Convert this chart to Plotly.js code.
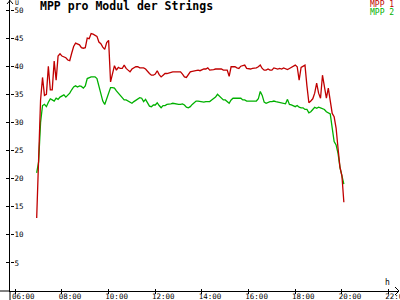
<!DOCTYPE html>
<html>
<head>
<meta charset="utf-8">
<script src="https://cdn.plot.ly/plotly-3.0.1.min.js"></script>
<style>html,body{margin:0;padding:0;background:#fff;}#chart{width:400px;height:300px;}</style>
</head>
<body>
<div id="chart"></div>
<script>
// ---- data ----
const TIMES = [
 "06:55",
 "07:00","07:05","07:10","07:15","07:20","07:25","07:30","07:35","07:40","07:45","07:50","07:55",
 "08:00","08:05","08:10","08:15","08:20","08:25","08:30","08:35","08:40","08:45","08:50","08:55",
 "09:00","09:05","09:10","09:15","09:20","09:25","09:30","09:35","09:40","09:45","09:50","09:55",
 "10:00","10:05","10:10","10:15","10:20","10:25","10:30","10:35","10:40","10:45","10:50","10:55",
 "11:00","11:05","11:10","11:15","11:20","11:25","11:30","11:35","11:40","11:45","11:50","11:55",
 "12:00","12:05","12:10","12:15","12:20","12:25","12:30","12:35","12:40","12:45","12:50","12:55",
 "13:00","13:05","13:10","13:15","13:20","13:25","13:30","13:35","13:40","13:45","13:50","13:55",
 "14:00","14:05","14:10","14:15","14:20","14:25","14:30","14:35","14:40","14:45","14:50","14:55",
 "15:00","15:05","15:10","15:15","15:20","15:25","15:30","15:35","15:40","15:45","15:50","15:55",
 "16:00","16:05","16:10","16:15","16:20","16:25","16:30","16:35","16:40","16:45","16:50","16:55",
 "17:00","17:05","17:10","17:15","17:20","17:25","17:30","17:35","17:40","17:45","17:50","17:55",
 "18:00","18:05","18:10","18:15","18:20","18:25","18:30","18:35","18:40","18:45","18:50","18:55",
 "19:00","19:05","19:10","19:15","19:20","19:25","19:30","19:35","19:40","19:45","19:50","19:55",
 "20:00","20:05"
];
const MPP1 = [
 13, 22, 34, 38, 34.8, 35, 40, 35.8, 35.8, 40.9, 37.5, 41.8,
 42.2, 41.8, 41.6, 41.5, 41.1, 41.0, 42.3, 43.5, 44.1, 44.0, 43.8, 43.3, 43.2,
 43.3, 45.0, 44.9, 45.8, 45.7, 45.5, 45.3, 44.3, 44.0, 43.4, 43.0, 44.2, 44.6,
 37.2, 38.8, 40.1, 39.3, 39.8, 39.6, 39.6, 40.2, 39.6, 39.3, 39.0, 39.5,
 39.7, 39.9, 39.9, 39.7, 39.7, 39.7, 39.5, 39.0, 38.7, 38.4, 38.4, 38.6,
 39.2, 38.5, 38.1, 38.4, 38.7, 38.7, 38.8, 39.0, 39.0, 39.0, 39.0, 39.0,
 39.0, 38.6, 38.1, 38.0, 38.4, 39.0, 39.1, 39.2, 39.3, 39.3, 39.2, 39.4,
 39.5, 39.5, 39.7, 39.3, 39.3, 39.4, 39.5, 39.5, 39.6, 39.5, 39.3, 39.3,
 39.3, 38.2, 39.9, 39.9, 39.9, 39.7, 39.6, 40.0, 40.1, 40.2, 39.6, 39.5,
 39.5, 39.6, 39.6, 39.7, 39.9, 40.2, 39.6, 39.3, 39.3, 39.5, 39.3, 39.3,
 39.7, 39.6, 39.5, 39.6, 39.5, 39.7, 39.6, 39.4, 39.6, 39.8, 39.9, 40.2,
 39.9, 37.5, 39.8, 40.0, 40.2, 36.5, 33.5, 33.8, 34.2, 35.2, 37.0, 35.2,
 34.3, 38.4, 36.3, 34.3, 36.1, 33.8, 31.6, 31.0, 29.0, 25.4, 22.0, 20.5, 15.8
];
const MPP2 = [
 21, 23, 30, 33, 33.2, 32.8, 33.6, 34.2, 34.0, 33.8, 34.3, 34.1,
 34.5, 34.7, 34.9, 34.5, 34.8, 35.2, 35.8, 36.3, 36.5, 36.3, 36.5, 36.4, 36.1,
 36.5, 37.8, 38.0, 38.1, 38.1, 38.1, 37.8, 36.5, 34.9, 33.8, 33.2, 34.2, 35.3,
 36.2, 36.2, 36.1, 35.6, 35.2, 34.7, 34.4, 34.0, 34.0, 33.8, 33.6, 33.4,
 33.7, 33.9, 34.1, 34.4, 34.3, 33.7, 34.1, 33.5, 32.9, 32.8, 33.1, 33.1,
 33.5, 33.0, 32.6, 33.0, 33.0, 33.2, 33.2, 33.3, 33.4, 33.3, 33.2, 33.2,
 33.2, 33.3, 33.1, 32.7, 32.6, 32.8, 33.2, 33.5, 33.8, 33.8, 33.7, 33.6,
 33.6, 33.7, 33.7, 33.7, 34.0, 34.3, 34.5, 35.0, 34.6, 34.2, 34.0, 34.0,
 33.7, 33.4, 34.0, 34.3, 34.3, 34.3, 34.3, 34.3, 34.0, 34.0, 33.8, 33.8,
 33.7, 33.7, 33.7, 33.8, 34.2, 35.5, 34.8, 33.6, 33.4, 33.6, 33.7, 33.7,
 33.8, 33.7, 33.6, 33.6, 33.5, 33.4, 33.3, 34.1, 33.2, 33.1, 32.9, 32.8,
 33.0, 32.7, 32.6, 32.6, 32.3, 32.3, 31.7, 31.9, 32.3, 32.7, 32.5, 32.7,
 32.6, 32.4, 32.3, 31.9, 31.7, 31.5, 29.0, 26.6, 26.0, 24.5, 22.0, 20.5, 19.0
];
const X_TICKS = [6, 8, 10, 12, 14, 16, 18, 20, 22];
const X_TICK_LABELS = ["06:00","08:00","10:00","12:00","14:00","16:00","18:00","20:00","22:00"];
const Y_TICKS = [5, 10, 15, 20, 25, 30, 35, 40, 45, 50];
const SERIES_NAMES = ["MPP 1", "MPP 2"];
const TITLE = "MPP pro Modul der Strings";

// ---- styling / layout ----
const RED = "#c00000", GREEN = "#00b000";
const toHours = s => { const [h, m] = s.split(":").map(Number); return h + m / 60; };
const xs = TIMES.map(toHours);

const L = 10, R = 398, T = 0, B = 291;           // plot area in pixels
const px = p => (p - L) / (R - L);               // pixel -> paper x
const py = p => (B - p) / (B - T);               // pixel -> paper y
const X_RANGE = [6 - (15.3 - L) / 23.33, 6 + (R - 15.3) / 23.33];
const Y_RANGE = [0, (B - T) / 5.62];

const MONO = "DejaVu Sans Mono, Liberation Mono, monospace";
const tickFont = {family: MONO, size: 7.5, color: "#000"};

const traces = [
  {x: xs, y: MPP2, name: SERIES_NAMES[1], type: "scatter", mode: "lines",
   xaxis: "x", yaxis: "y",
   line: {color: GREEN, width: 1.3}, hoverinfo: "skip"},
  {x: xs, y: MPP1, name: SERIES_NAMES[0], type: "scatter", mode: "lines",
   xaxis: "x2", yaxis: "y2",
   line: {color: RED, width: 1.3}, hoverinfo: "skip"}
];

const layout = {
  width: 400, height: 300,
  margin: {l: L, r: 400 - R, t: T, b: 300 - B, pad: 0},
  paper_bgcolor: "#fff", plot_bgcolor: "#fff",
  showlegend: false,
  title: {text: TITLE, x: 40 / 400, xref: "container", xanchor: "left",
          y: 1 - 2 / 300, yref: "container", yanchor: "top",
          font: {family: MONO, size: 11.5, color: "#000", weight: "bold"}},
  xaxis: {range: X_RANGE, showgrid: false, zeroline: false, showline: true,
          linecolor: "#000", linewidth: 1, ticks: "outside", ticklen: 2, tickwidth: 1,
          tickcolor: "#000", tickvals: X_TICKS, ticktext: X_TICK_LABELS,
          tickfont: tickFont, ticklabelshift: 8, ticklabelstandoff: -4,
          ticklabeloverflow: "allow", fixedrange: true},
  yaxis: {range: Y_RANGE, showgrid: false, zeroline: false, showline: true,
          linecolor: "#000", linewidth: 1, ticks: "outside", ticklen: 3, tickwidth: 1,
          tickcolor: "#000", tickvals: Y_TICKS, showticklabels: false, fixedrange: true},
  xaxis2: {range: X_RANGE, overlaying: "x", anchor: "y2", side: "bottom",
           showgrid: false, zeroline: false, showline: false, ticks: "inside",
           ticklen: 2, tickwidth: 1, tickcolor: "#000", tickvals: X_TICKS,
           showticklabels: false, fixedrange: true},
  yaxis2: {range: Y_RANGE, overlaying: "y", anchor: "free", position: 0, side: "right",
           showgrid: false, zeroline: false, showline: false, ticks: "outside",
           ticklen: 3, tickwidth: 1, tickcolor: "#000", tickvals: Y_TICKS,
           ticktext: Y_TICKS.map(String), tickfont: tickFont, ticklabelstandoff: -1,
           ticklabeloverflow: "allow", fixedrange: true},
  shapes: [
    {type: "line", xref: "paper", yref: "paper", x0: px(L), x1: px(L), y0: py(B), y1: py(300),
     line: {color: "#000", width: 1}},
    {type: "line", xref: "paper", yref: "paper", x0: px(0), x1: px(L), y0: py(B), y1: py(B),
     line: {color: "#000", width: 1}},
    {type: "line", xref: "paper", yref: "paper", x0: px(R), x1: px(399), y0: py(B), y1: py(B),
     line: {color: "#000", width: 1}},
    {type: "path", xref: "paper", yref: "paper",
     path: `M ${px(7)} ${py(4)} L ${px(L)} ${py(0.5)} L ${px(13)} ${py(4)}`,
     line: {color: "#000", width: 1}},
    {type: "path", xref: "paper", yref: "paper",
     path: `M ${px(395)} ${py(287)} L ${px(399)} ${py(B)} L ${px(395)} ${py(295)}`,
     line: {color: "#000", width: 1}}
  ],
  annotations: [
    {text: "U", xref: "paper", yref: "paper", x: px(14), y: py(3), xanchor: "left", yanchor: "middle",
     showarrow: false, font: {family: MONO, size: 6.5, color: "#000"}, borderpad: 0},
    {text: "h", xref: "paper", yref: "paper", x: px(387), y: py(282), xanchor: "center", yanchor: "middle",
     showarrow: false, font: {family: MONO, size: 8, color: "#000"}, borderpad: 0},
    {text: SERIES_NAMES[0], xref: "paper", yref: "paper", x: px(395), y: py(4.5), xanchor: "right",
     yanchor: "middle", showarrow: false, font: {family: MONO, size: 8, color: RED}, borderpad: 0},
    {text: SERIES_NAMES[1], xref: "paper", yref: "paper", x: px(395), y: py(12.5), xanchor: "right",
     yanchor: "middle", showarrow: false, font: {family: MONO, size: 8, color: GREEN}, borderpad: 0}
  ]
};

Plotly.newPlot("chart", traces, layout, {staticPlot: true, displayModeBar: false});
</script>
</body>
</html>
